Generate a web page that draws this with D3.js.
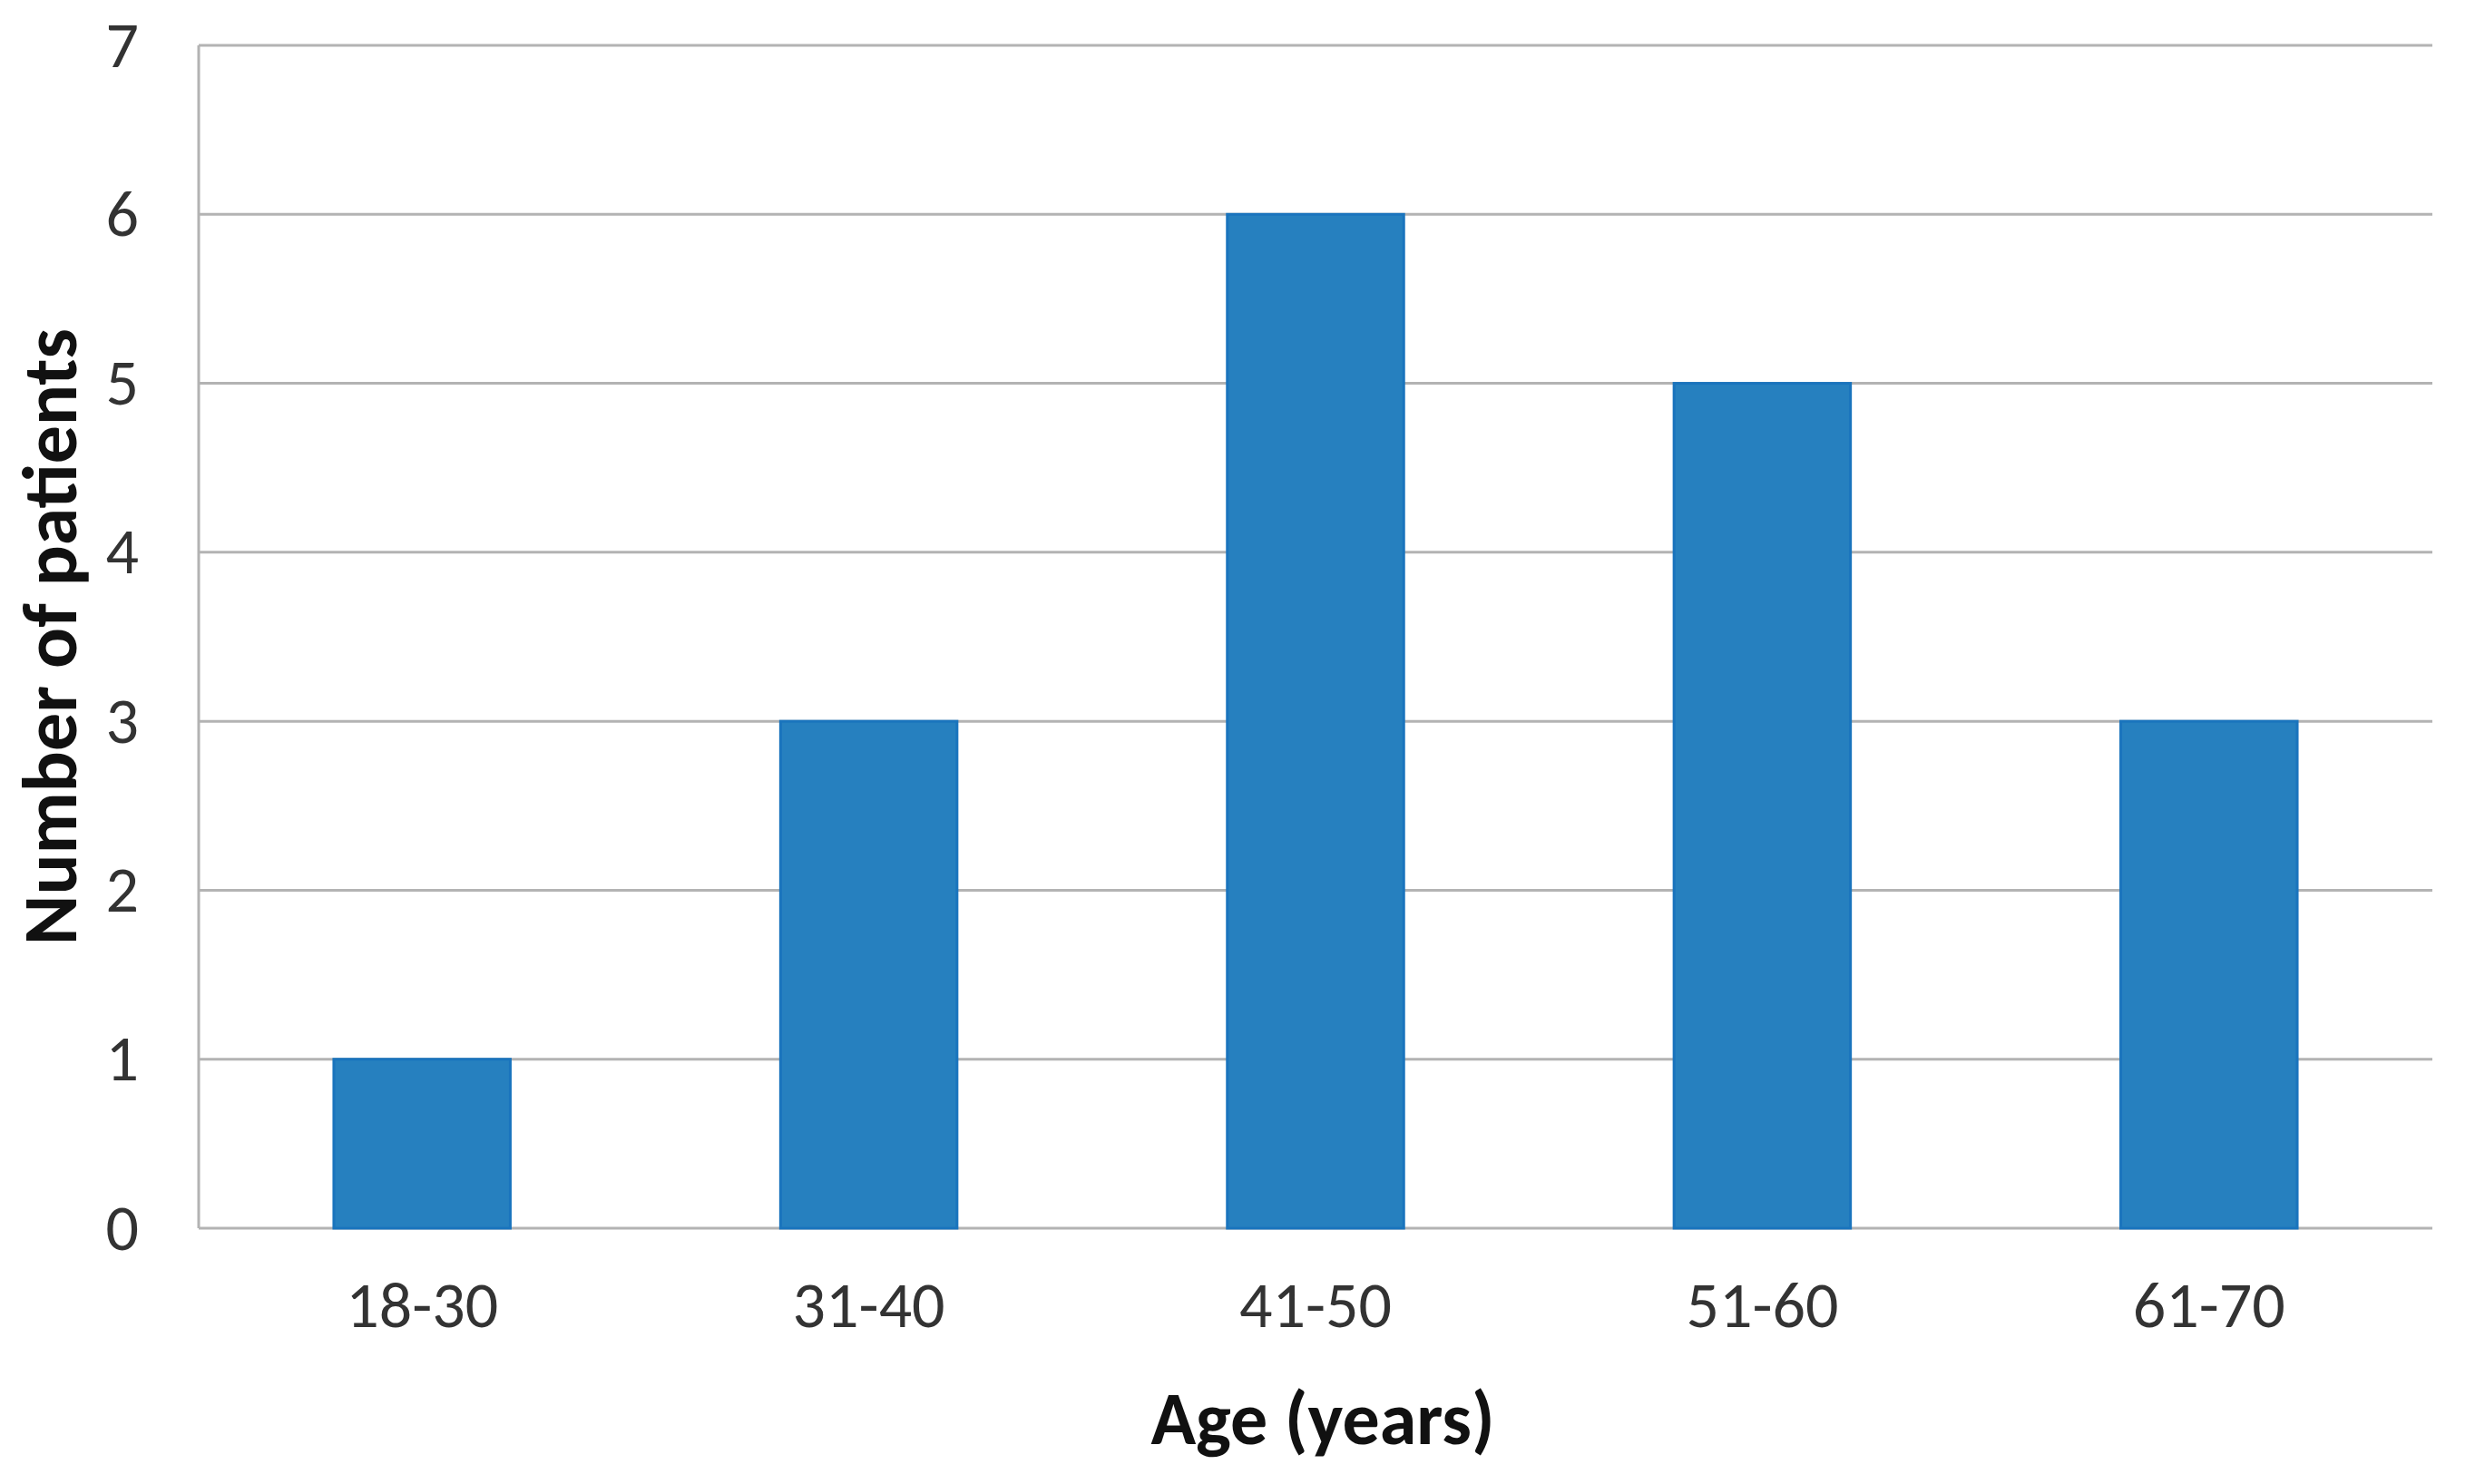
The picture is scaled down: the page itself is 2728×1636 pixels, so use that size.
<!DOCTYPE html>
<html>
<head>
<meta charset="utf-8">
<script src="https://cdn.jsdelivr.net/npm/d3@7"></script>
<style>
  html, body { margin: 0; padding: 0; background: #ffffff; }
  svg { display: block; }
  text { font-family: Carlito, Lato, "Open Sans", sans-serif; }
</style>
</head>
<body>
<script>
const categories = ["18-30", "31-40", "41-50", "51-60", "61-70"];
const patients = [1, 3, 6, 5, 3];
const yTicks = [0, 1, 2, 3, 4, 5, 6, 7];
const xTitle = "Age (years)";
const yTitle = "Number of patients";

const W = 2728, H = 1636;
const margin = { left: 219, top: 50, right: W - 2681, bottom: H - 1354 };
const iw = W - margin.left - margin.right;
const ih = H - margin.top - margin.bottom;

const svg = d3.select("body").append("svg").attr("width", W).attr("height", H);
const g = svg.append("g").attr("transform", `translate(${margin.left},${margin.top})`);

const x = d3.scaleBand().domain(categories).range([0, iw]).paddingInner(0.605).paddingOuter(0.3025);
const y = d3.scaleLinear().domain([0, 7]).range([ih, 0]);

// gridlines
g.selectAll(".grid").data(yTicks).enter().append("line")
  .attr("x1", 0).attr("x2", iw)
  .attr("y1", d => y(d)).attr("y2", d => y(d))
  .attr("stroke", "#b3b3b3").attr("stroke-width", 3);

// left axis line
g.append("line").attr("x1", 0).attr("x2", 0).attr("y1", 0).attr("y2", ih)
  .attr("stroke", "#b3b3b3").attr("stroke-width", 3);

// bars
g.selectAll(".bar").data(patients).enter().append("rect")
  .attr("x", (d, i) => x(categories[i]))
  .attr("width", x.bandwidth())
  .attr("y", d => y(d))
  .attr("height", d => ih - y(d))
  .attr("fill", "#2680bf")
  .attr("stroke", "#1a74bd")
  .attr("stroke-width", 3);

// y axis
const yAxis = d3.axisLeft(y).tickValues(yTicks).tickSize(0).tickPadding(66).tickFormat(d3.format("d"));
const ya = g.append("g").call(yAxis);
ya.select(".domain").remove();
ya.selectAll("text").attr("font-size", 72).attr("fill", "#333333")
  .style("font-family", "Carlito, Lato, 'Open Sans', sans-serif");

// x axis
const xAxis = d3.axisBottom(x).tickSize(0).tickPadding(58);
const xa = g.append("g").attr("transform", `translate(0,${ih})`).call(xAxis);
xa.select(".domain").remove();
xa.selectAll("text").attr("font-size", 72).attr("fill", "#333333")
  .style("font-family", "Carlito, Lato, 'Open Sans', sans-serif");

// titles
svg.append("text").attr("x", margin.left + iw / 2 + 8).attr("y", 1592)
  .attr("text-anchor", "middle").attr("font-size", 82).attr("font-weight", "bold")
  .attr("fill", "#111111").text(xTitle);

svg.append("text")
  .attr("transform", `translate(84,${margin.top + ih / 2}) rotate(-90)`)
  .attr("text-anchor", "middle").attr("font-size", 84).attr("font-weight", "bold")
  .attr("fill", "#111111").text(yTitle);
</script>
</body>
</html>
